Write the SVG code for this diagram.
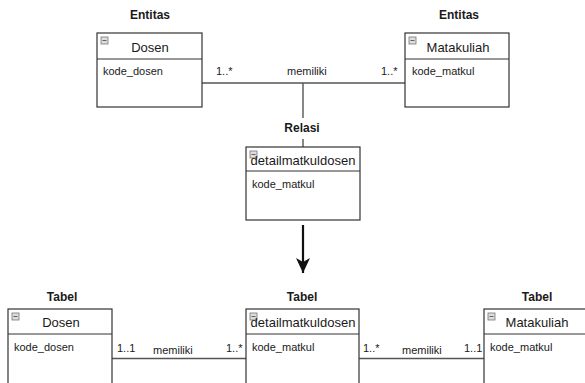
<svg xmlns="http://www.w3.org/2000/svg" width="585" height="383" viewBox="0 0 585 383">
<style>
.box{fill:#fff;stroke:#333;stroke-width:1.2}
.sep{stroke:#333;stroke-width:1.2}
.title{font-family:"Liberation Sans",Arial,sans-serif;font-size:13px;fill:#1a1a1a;text-anchor:middle}
.attr{font-family:"Liberation Sans",Arial,sans-serif;font-size:11px;fill:#1a1a1a}
.lbl{font-family:"Liberation Sans",Arial,sans-serif;font-size:11px;fill:#1a1a1a}
.hdr{font-family:"Liberation Sans",Arial,sans-serif;font-size:12px;font-weight:bold;fill:#1a1a1a;text-anchor:middle}
.con{stroke:#555;stroke-width:1.4;fill:none}
</style>
<defs>
<g id="icon"><rect x="0" y="0" width="7" height="7" fill="#ddd" stroke="#777" stroke-width="0.8"/><line x1="1.5" y1="3.5" x2="5.5" y2="3.5" stroke="#555" stroke-width="0.9"/></g>
<marker id="ah" markerWidth="16" markerHeight="14" refX="15" refY="7" orient="auto" markerUnits="userSpaceOnUse"><path d="M0,0 L15,7 L0,14 L4,7 Z" fill="#111"/></marker>
</defs>
<g id="labels">
<text class="hdr" x="150" y="19">Entitas</text>
<text class="hdr" x="459" y="19">Entitas</text>
<text class="hdr" x="302" y="132">Relasi</text>
<text class="hdr" x="62" y="301">Tabel</text>
<text class="hdr" x="302" y="301">Tabel</text>
<text class="hdr" x="537" y="301">Tabel</text>
</g>
<g id="connectors">
<line class="con" x1="202" y1="83" x2="405" y2="83"/>
<line class="con" x1="303" y1="83" x2="303" y2="118"/>
<line class="con" x1="303" y1="139" x2="303" y2="147"/>
<line x1="303" y1="225" x2="303" y2="273" stroke="#111" stroke-width="2.2" marker-end="url(#ah)"/>
<line class="con" x1="112" y1="358.5" x2="246" y2="358.5"/>
<line class="con" x1="359" y1="358.5" x2="484" y2="358.5"/>
<text class="lbl" x="216" y="75">1..*</text>
<text class="lbl" x="287" y="75">memiliki</text>
<text class="lbl" x="381" y="75">1..*</text>
<text class="lbl" x="117" y="352">1..1</text>
<text class="lbl" x="153" y="354">memiliki</text>
<text class="lbl" x="226" y="352">1..*</text>
<text class="lbl" x="363" y="352">1..*</text>
<text class="lbl" x="402" y="354">memiliki</text>
<text class="lbl" x="464" y="352">1..1</text>
</g>
<g id="dosen-entitas">
<rect class="box" x="97" y="33" width="105" height="74"/>
<line class="sep" x1="97" y1="59" x2="202" y2="59"/>
<use href="#icon" x="101" y="37"/>
<text class="title" x="150" y="52">Dosen</text>
<text class="attr" x="103" y="75">kode_dosen</text>
</g>
<g id="matakuliah-entitas">
<rect class="box" x="405" y="33" width="104" height="74"/>
<line class="sep" x1="405" y1="59" x2="509" y2="59"/>
<use href="#icon" x="409" y="37"/>
<text class="title" x="458" y="52">Matakuliah</text>
<text class="attr" x="412" y="75">kode_matkul</text>
</g>
<g id="detail-relasi">
<rect class="box" x="246" y="147" width="114" height="73"/>
<line class="sep" x1="246" y1="171" x2="360" y2="171"/>
<use href="#icon" x="250" y="151"/>
<text class="title" x="303" y="165">detailmatkuldosen</text>
<text class="attr" x="252" y="188">kode_matkul</text>
</g>
<g id="dosen-tabel">
<rect class="box" x="8" y="309" width="104" height="76"/>
<line class="sep" x1="8" y1="334" x2="112" y2="334"/>
<use href="#icon" x="12" y="313"/>
<text class="title" x="61" y="327">Dosen</text>
<text class="attr" x="14" y="351">kode_dosen</text>
</g>
<g id="detail-tabel">
<rect class="box" x="246" y="309" width="113" height="76"/>
<line class="sep" x1="246" y1="334" x2="359" y2="334"/>
<use href="#icon" x="250" y="313"/>
<text class="title" x="303" y="327">detailmatkuldosen</text>
<text class="attr" x="252" y="351">kode_matkul</text>
</g>
<g id="matakuliah-tabel">
<rect class="box" x="484" y="309" width="104" height="76"/>
<line class="sep" x1="484" y1="334" x2="588" y2="334"/>
<use href="#icon" x="488" y="313"/>
<text class="title" x="537" y="327">Matakuliah</text>
<text class="attr" x="490" y="351">kode_matkul</text>
</g>
</svg>
